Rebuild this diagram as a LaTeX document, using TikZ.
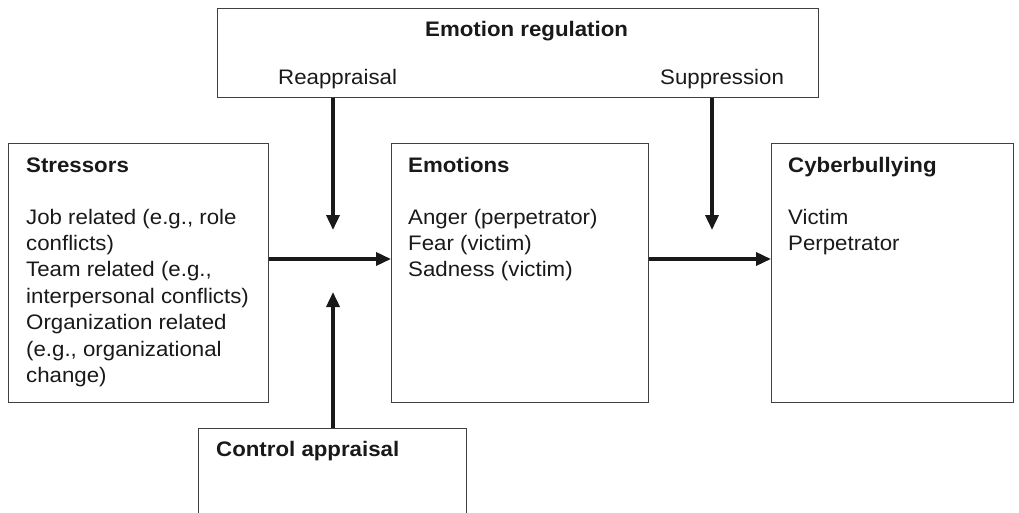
\documentclass[tikz,border=0pt]{standalone}
\usepackage{fontspec}
\setmainfont{Liberation Sans}[FakeStretch=1.06]
\usetikzlibrary{arrows.meta}
\begin{document}
\begin{tikzpicture}[x=1pt,y=-1pt,
  box/.style={draw=black!75,line width=1.2pt,inner sep=0pt,anchor=north west},
  arr/.style={line width=3.5pt,black!90,-{Triangle[length=15pt,width=13pt]}},
  txt/.style={inner sep=0pt,anchor=base west,align=left,text=black!90,font=\fontsize{21}{26.4}\selectfont},
  head/.style={txt,font=\fontsize{21}{26.4}\selectfont\bfseries}]
\useasboundingbox (0,0) rectangle (1019,513);
\clip (0,0) rectangle (1019,513);
% boxes
\node[box,minimum width=601pt,minimum height=89pt] (reg) at (217,8) {};
\node[box,minimum width=260pt,minimum height=259pt] (stress) at (8,143) {};
\node[box,minimum width=257pt,minimum height=259pt] (emo) at (391,143) {};
\node[box,minimum width=242pt,minimum height=259pt] (cyber) at (771,143) {};
\node[box,minimum width=268pt,minimum height=110pt] (ctrl) at (198,428) {};
% texts (base = last line)
\node[head] (regT) at (425,37) {Emotion regulation};
\node[txt] (reapp) at (278,85) {Reappraisal};
\node[txt] (supp) at (660,85) {Suppression};
\node[head] (stressT) at (26,172) {Stressors};
\node[txt] (stressL) at (26,382.4) {Job related (e.g., role\\conflicts)\\Team related (e.g.,\\interpersonal conflicts)\\Organization related\\(e.g., organizational\\change)};
\node[head] (emoT) at (408,172) {Emotions};
\node[txt] (emoL) at (408,276.8) {Anger (perpetrator)\\Fear (victim)\\Sadness (victim)};
\node[head] (cyberT) at (788,172) {Cyberbullying};
\node[txt] (cyberL) at (788,250.4) {Victim\\Perpetrator};
\node[head] (ctrlT) at (216,456) {Control appraisal};
% arrow ends
\coordinate (lvl) at (0,259);
\coordinate (tipA) at (333,230);
\coordinate (tipB) at (712,230);
\coordinate (tipC) at (333,292);
\draw[arr] (stress.east |- lvl) -- (emo.west |- lvl);
\draw[arr] (emo.east |- lvl) -- (cyber.west |- lvl);
\draw[arr] (reg.south -| tipA) -- (tipA);
\draw[arr] (reg.south -| tipB) -- (tipB);
\draw[arr] (ctrl.north -| tipC) -- (tipC);
\end{tikzpicture}
\end{document}
